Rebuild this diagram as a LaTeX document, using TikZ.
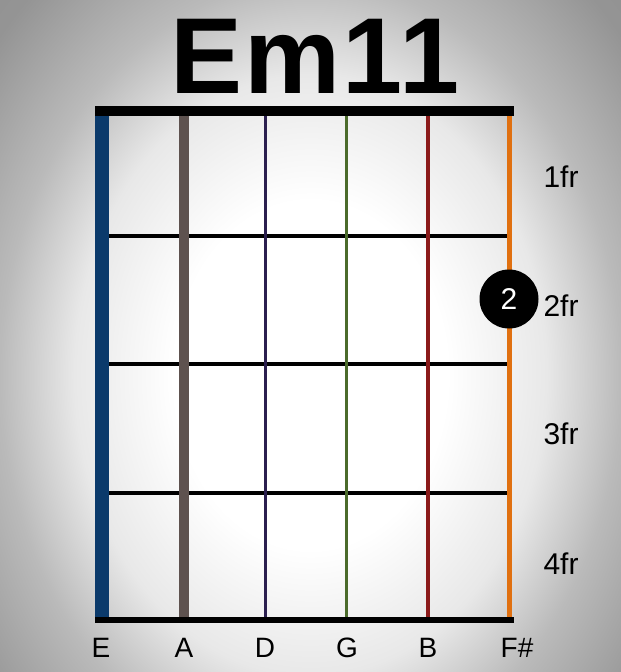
\documentclass[tikz,border=0pt]{standalone}
\usepackage{fontspec}
\setmainfont{Liberation Sans}
\pgfdeclareradialshading{bgshade}{\pgfpoint{0bp}{0bp}}{color(0bp)=(white); color(11bp)=(white); color(19bp)=(black!9); color(25bp)=(black!27); color(33bp)=(black!42); color(50bp)=(black!45)}
\definecolor{strE}{HTML}{0B3A6B}
\definecolor{strA}{HTML}{5E524F}
\definecolor{strD}{HTML}{2B1F4F}
\definecolor{strG}{HTML}{4B6B2B}
\definecolor{strB}{HTML}{8B1A1A}
\definecolor{strF}{HTML}{E07010}
\tikzset{
  fretline/.style={line width=4pt, black},
  nutline/.style={line width=10pt, black},
  strline/.style={line width=#1},
  frlabel/.style={font=\fontsize{30}{30}\selectfont, anchor=base},
  notelabel/.style={font=\fontsize{28}{28}\selectfont, anchor=base},
  fingerdot/.style={circle, fill=black, minimum size=59pt, inner sep=0pt, text=white, font=\fontsize{30}{30}\selectfont}
}
\begin{document}
\begin{tikzpicture}[x=1pt,y=-1pt]
\useasboundingbox (0,0) rectangle (621,672);
\begin{scope}
\clip (0,0) rectangle (621,672);
\shade[shading=bgshade] (0,-20) rectangle (621,770);
\end{scope}
% title
\node[font=\fontsize{108}{108}\selectfont\bfseries\addfontfeatures{LetterSpace=2}, anchor=base] (title) at (315,93) {Em11};
% nut
\coordinate (nutL) at (95,111);
\coordinate (nutR) at (514,111);
\draw[nutline] (nutL) -- (nutR);
% frets
\foreach \i/\y in {1/236,2/364,3/493}{
  \coordinate (f\i L) at (109,\y);
  \coordinate (f\i R) at (507,\y);
  \draw[fretline] (f\i L) -- (f\i R);
}
\coordinate (f4L) at (95,620);
\coordinate (f4R) at (514,620);
% strings
\foreach \n/\x/\w/\c in {E/102/14/strE, A/184/10/strA, D/265.5/3/strD, G/346/3/strG, B/428/3.5/strB, F/509.5/4.5/strF}{
  \coordinate (\n top) at (\x,116);
  \coordinate (\n bot) at (\x,618);
  \draw[strline=\w pt, draw=\c] (\n top) -- (\n bot);
}
\draw[line width=5.5pt] (f4L) -- (f4R);
% fret labels
\node[frlabel] (fr1) at (561,187) {1fr};
\node[frlabel] (fr2) at (561,316) {2fr};
\node[frlabel] (fr3) at (561,444) {3fr};
\node[frlabel] (fr4) at (561,574) {4fr};
% finger dot
\node[fingerdot] (dot) at (509,299) {2};
% string names
\node[notelabel] (nE) at (101,657) {E};
\node[notelabel] (nA) at (184,657) {A};
\node[notelabel] (nD) at (265,657) {D};
\node[notelabel] (nG) at (347,657) {G};
\node[notelabel] (nB) at (428,657) {B};
\node[notelabel] (nF) at (517,657) {F\#};
\end{tikzpicture}
\end{document}
